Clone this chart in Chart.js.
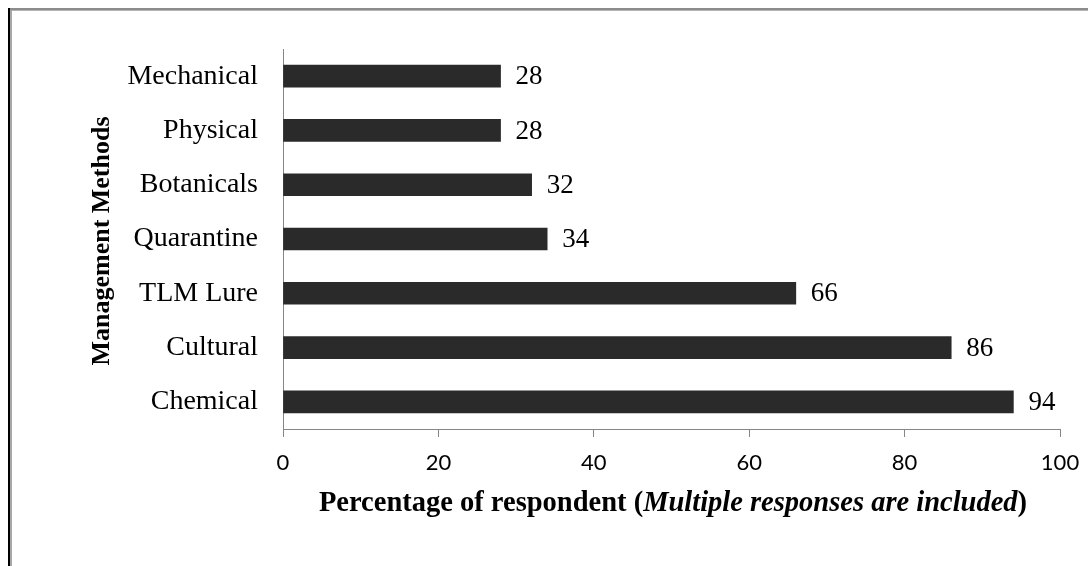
<!DOCTYPE html>
<html>
<head>
<meta charset="utf-8">
<script src="https://cdn.jsdelivr.net/npm/chart.js@4.4.1/dist/chart.umd.min.js"></script>
<style>
  html, body { margin: 0; padding: 0; background: #ffffff; }
  #wrap { position: relative; width: 1088px; height: 566px; }
</style>
</head>
<body>
<div id="wrap"><canvas id="c" width="1088" height="566"></canvas></div>
<script>
const categories = ['Mechanical', 'Physical', 'Botanicals', 'Quarantine', 'TLM Lure', 'Cultural', 'Chemical'];
const percentages = [28, 28, 32, 34, 66, 86, 94];
const xTicks = [0, 20, 40, 60, 80, 100];
const yTitle = 'Management Methods';
const xTitleParts = [
  { text: 'Percentage of respondent (', italic: false },
  { text: 'Multiple responses are included', italic: true },
  { text: ')', italic: false }
];

const serif = '"Liberation Serif", "Times New Roman", serif';

const framePlugin = {
  id: 'frame',
  beforeDraw(chart) {
    const ctx = chart.ctx;
    ctx.save();
    ctx.fillStyle = '#ffffff';
    ctx.fillRect(0, 0, chart.width, chart.height);
    ctx.fillStyle = '#8c8c8c';
    ctx.fillRect(8, 8, chart.width - 8, 2);
    ctx.fillStyle = '#b4b4b4';
    ctx.fillRect(10, 10, chart.width - 10, 1);
    ctx.fillStyle = '#000000';
    ctx.fillRect(8, 8, 2, chart.height - 8);
    ctx.fillStyle = '#a8a8a8';
    ctx.fillRect(10, 10, 2, chart.height - 10);
    ctx.restore();
  }
};

const labelsPlugin = {
  id: 'valueLabels',
  afterDatasetsDraw(chart) {
    const ctx = chart.ctx;
    const meta = chart.getDatasetMeta(0);
    ctx.save();
    ctx.font = '27px ' + serif;
    ctx.fillStyle = '#000000';
    ctx.textAlign = 'left';
    ctx.textBaseline = 'middle';
    meta.data.forEach((bar, i) => {
      ctx.fillText(String(percentages[i]), bar.x + 15, bar.y + 1);
    });
    ctx.restore();
  }
};

const titlesPlugin = {
  id: 'axisTitles',
  afterDraw(chart) {
    const ctx = chart.ctx;
    const area = chart.chartArea;
    ctx.save();
    ctx.fillStyle = '#000000';
    ctx.textBaseline = 'middle';
    const fonts = xTitleParts.map(p => (p.italic ? 'italic bold 28.5px ' : 'bold 28.5px ') + serif);
    let total = 0;
    const widths = xTitleParts.map((p, i) => { ctx.font = fonts[i]; const w = ctx.measureText(p.text).width; total += w; return w; });
    let x = 673 - total / 2;
    ctx.textAlign = 'left';
    xTitleParts.forEach((p, i) => {
      ctx.font = fonts[i];
      ctx.fillText(p.text, x, 504);
      x += widths[i];
    });
    ctx.translate(102, (area.top + area.bottom) / 2 + 2);
    ctx.rotate(-Math.PI / 2);
    ctx.textAlign = 'center';
    ctx.font = 'bold 26px ' + serif;
    ctx.fillText(yTitle, 0, 0);
    ctx.restore();
  }
};

new Chart(document.getElementById('c'), {
  type: 'bar',
  data: {
    labels: categories,
    datasets: [{
      data: percentages,
      backgroundColor: '#2a2a2a',
      borderWidth: 0,
      barThickness: 22
    }]
  },
  options: {
    indexAxis: 'y',
    responsive: false,
    animation: false,
    events: [],
    layout: { padding: { left: 0, top: 49, right: 28, bottom: 0 } },
    plugins: { legend: { display: false }, tooltip: { enabled: false }, title: { display: false } },
    scales: {
      x: {
        type: 'linear',
        min: 0,
        max: 100,
        afterBuildTicks(scale) { scale.ticks = xTicks.map(v => ({ value: v })); },
        afterFit(scale) { scale.height = 137; scale.paddingRight = 0; scale.paddingLeft = 0; },
        grid: { display: true, drawOnChartArea: false, drawTicks: true, tickLength: 8, color: '#868686', lineWidth: 1 },
        border: { display: true, color: '#868686', width: 1 },
        ticks: {
          color: '#000000',
          font: { family: 'Lato, "Open Sans", sans-serif', size: 22 },
          padding: 13,
          maxRotation: 0
        }
      },
      y: {
        type: 'category',
        afterFit(scale) { scale.width = 283; scale.paddingTop = 0; scale.paddingBottom = 0; },
        grid: { display: false, drawTicks: false },
        border: { display: true, color: '#868686', width: 1 },
        ticks: {
          color: '#000000',
          font: { family: serif, size: 28 },
          padding: 25
        }
      }
    }
  },
  plugins: [framePlugin, labelsPlugin, titlesPlugin]
});
</script>
</body>
</html>
